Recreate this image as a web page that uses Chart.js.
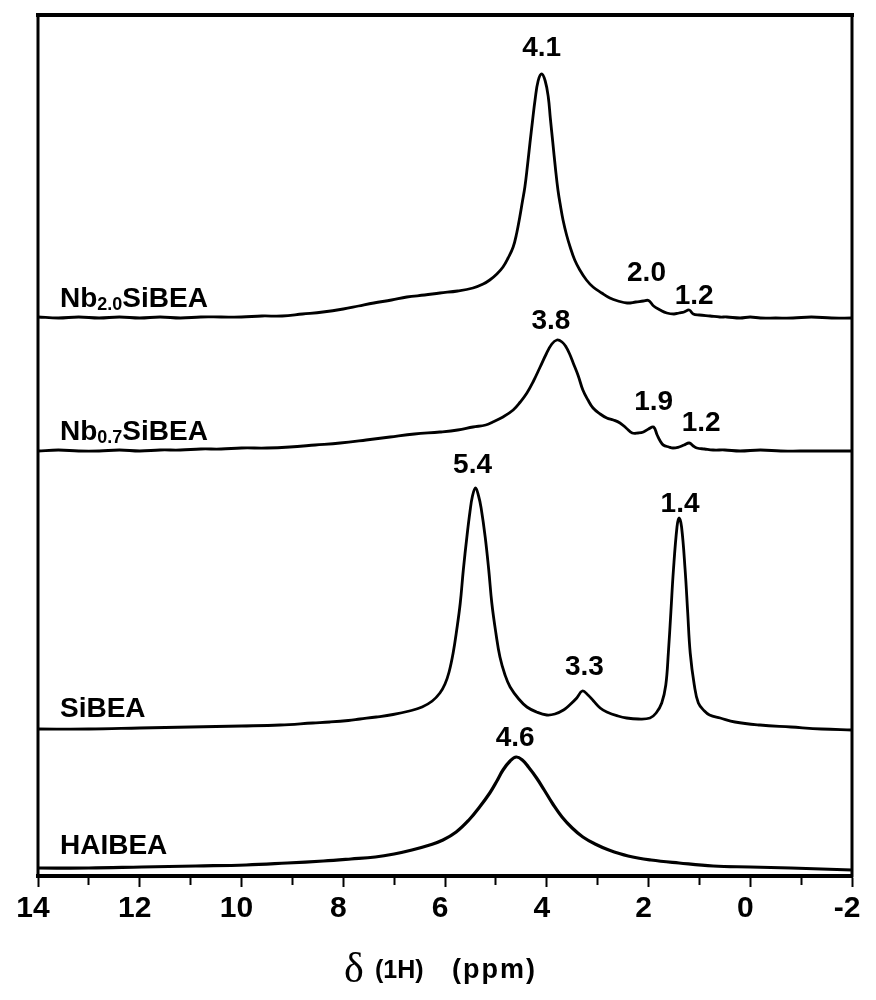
<!DOCTYPE html>
<html>
<head>
<meta charset="utf-8">
<script src="https://cdn.jsdelivr.net/npm/chart.js@4.4.0/dist/chart.umd.min.js"></script>
<style>
  html, body { margin: 0; padding: 0; background: #fff; }
  #wrap { width: 876px; height: 1000px; }
</style>
</head>
<body>
<div id="wrap"><canvas id="nmr" width="876" height="1000"></canvas></div>
<script>
// 1H MAS NMR spectra of the BEA zeolite series.
// Chemical shift in ppm, intensity in a.u. above each trace's own baseline.
const sampleNames = ['Nb2.0SiBEA', 'Nb0.7SiBEA', 'SiBEA', 'HAIBEA'];
// vertical stacking offset of each spectrum (a.u.)
const stackOffsets = [558, 425, 146, 6];

const nb20Ppm = [14.0, 13.6, 13.2, 12.8, 12.4, 12.0, 11.6, 11.2, 10.8, 10.4, 10.0, 9.6, 9.2, 8.8, 8.4, 8.0, 7.7, 7.4, 7.05, 6.75, 6.4, 6.1, 5.75, 5.45, 5.25, 5.12, 4.98, 4.86, 4.76, 4.66, 4.59, 4.53, 4.48, 4.43, 4.38, 4.33, 4.28, 4.23, 4.17, 4.1, 4.03, 3.97, 3.93, 3.88, 3.83, 3.78, 3.73, 3.68, 3.61, 3.54, 3.45, 3.35, 3.22, 3.09, 2.92, 2.76, 2.6, 2.42, 2.25, 2.1, 2.0, 1.9, 1.77, 1.64, 1.5, 1.4, 1.3, 1.2, 1.12, 1.0, 0.79, 0.6, 0.46, 0.2, 0.0, -0.2, -0.5, -0.84, -1.2, -1.6, -2.0];
const nb20Int = [1, 0, 1, 0, 1, 0, 1, 0, 1, 1, 1, 2, 2, 4, 6, 9, 12, 15, 18, 21, 23, 25, 27, 30, 34, 38, 44, 51, 60, 71, 85, 101, 116, 131, 152, 175, 197, 218, 237, 244, 237, 221, 200, 175, 150, 128, 112, 98, 83, 71, 58, 48, 38, 31, 25, 20, 17, 15, 16, 17, 17.5, 12, 8, 5, 4, 5, 6, 8, 4, 3, 2, 1, 1, 0, 1, 0, 0, 0, 1, 0, 0];

const nb07Ppm = [14.0, 13.6, 13.2, 12.8, 12.4, 12.0, 11.6, 11.2, 10.8, 10.4, 10.0, 9.5, 9.05, 8.55, 8.06, 7.55, 7.08, 6.6, 6.1, 5.75, 5.45, 5.2, 5.06, 4.86, 4.66, 4.52, 4.39, 4.26, 4.13, 4.01, 3.9, 3.8, 3.7, 3.62, 3.55, 3.48, 3.38, 3.29, 3.19, 3.09, 2.95, 2.82, 2.69, 2.56, 2.44, 2.32, 2.2, 2.1, 2.0, 1.9, 1.83, 1.77, 1.71, 1.6, 1.52, 1.4, 1.3, 1.2, 1.12, 1.05, 0.9, 0.73, 0.5, 0.2, -0.2, -0.6, -0.98, -1.4, -2.0];
const nb07Int = [0, 1, 0, 0, 1, 0, 1, 1, 2, 2, 3, 3, 4, 6, 8, 11, 14, 17, 19, 21, 24, 26, 29, 34, 41, 49, 58, 70, 84, 97, 107, 111, 109, 104, 97, 88, 75, 61, 51, 43, 37, 33, 31, 28, 23, 18, 18, 19, 22, 24, 16, 10, 6, 4, 3, 4, 6, 8, 5, 3, 2, 1, 1, 0, 1, 0, 0, 0, 0];

const siPpm = [14.0, 13.0, 12.0, 11.0, 10.0, 9.24, 8.6, 8.26, 7.9, 7.67, 7.35, 7.02, 6.7, 6.45, 6.25, 6.1, 6.0, 5.92, 5.84, 5.77, 5.7, 5.64, 5.57, 5.51, 5.46, 5.4, 5.34, 5.29, 5.21, 5.14, 5.08, 5.0, 4.92, 4.82, 4.72, 4.55, 4.39, 4.2, 4.0, 3.84, 3.67, 3.55, 3.41, 3.3, 3.19, 3.08, 2.95, 2.82, 2.6, 2.43, 2.2, 1.97, 1.85, 1.74, 1.66, 1.61, 1.56, 1.51, 1.44, 1.4, 1.35, 1.28, 1.23, 1.18, 1.1, 1.02, 0.9, 0.8, 0.59, 0.3, -0.19, -0.8, -1.4, -2.0];
const siInt = [1, 1, 2, 3, 4, 5, 7, 8, 9.5, 11, 13, 15.5, 19, 23, 29, 37, 46, 58, 77, 100, 127, 160, 193, 218, 234, 242, 234, 222, 193, 160, 127, 97, 73, 55, 43, 31, 23, 18, 15, 16, 20, 25, 32, 39, 35, 29, 22, 18, 14, 12, 11, 12, 17, 27, 45, 77, 118, 160, 203, 212, 203, 160, 118, 77, 45, 27, 19, 15, 12, 8, 5, 3, 1, 0];

const haPpm = [14.0, 13.0, 11.96, 10.9, 9.91, 9.1, 8.39, 7.85, 7.37, 7.0, 6.65, 6.3, 6.04, 5.78, 5.53, 5.32, 5.12, 4.98, 4.86, 4.72, 4.6, 4.48, 4.36, 4.2, 4.05, 3.88, 3.7, 3.5, 3.29, 3.05, 2.78, 2.4, 1.95, 1.4, 0.73, 0.0, -0.8, -1.4, -2.0];
const haInt = [2, 2, 3, 4, 5, 7, 9, 11, 13, 16, 20, 25, 30, 38, 50, 63, 77, 89, 100, 109, 113, 110, 103, 92, 80, 66, 53, 42, 33, 26, 20, 14, 10, 7, 4, 3, 2, 1, 0];

// labelled x-axis values
const xTickLabels = [14, 12, 10, 8, 6, 4, 2, 0, -2];

const ppmSeries = [nb20Ppm, nb07Ppm, siPpm, haPpm];
const intSeries = [nb20Int, nb07Int, siInt, haInt];

// peak assignments: text, spectrum index, shift; dx/dy place the text relative to the peak (px)
const peakLabels = [
  { text: '4.1', series: 0, ppm: 4.1, dx: 0, dy: -26 },
  { text: '2.0', series: 0, ppm: 2.0, dx: -2, dy: -27 },
  { text: '1.2', series: 0, ppm: 1.2, dx: 5, dy: -14 },
  { text: '3.8', series: 1, ppm: 3.8, dx: -6, dy: -19 },
  { text: '1.9', series: 1, ppm: 1.9, dx: 0, dy: -25 },
  { text: '1.2', series: 1, ppm: 1.2, dx: 12, dy: -20 },
  { text: '5.4', series: 2, ppm: 5.4, dx: -3, dy: -23 },
  { text: '3.3', series: 2, ppm: 3.3, dx: 2, dy: -24 },
  { text: '1.4', series: 2, ppm: 1.4, dx: 1, dy: -14 },
  { text: '4.6', series: 3, ppm: 4.6, dx: -1, dy: -19 }
];

// sample names: main part, subscript, rest; drawn just above each baseline
const sampleLabels = [
  { main: 'Nb', sub: '2.0', rest: 'SiBEA', dy: -11 },
  { main: 'Nb', sub: '0.7', rest: 'SiBEA', dy: -11 },
  { main: 'SiBEA', sub: '', rest: '', dy: -13 },
  { main: 'HAIBEA', sub: '', rest: '', dy: -16 }
];

const SANS = '"Liberation Sans", Arial, sans-serif';

const datasets = sampleNames.map((name, i) => ({
  label: name,
  data: ppmSeries[i].map((p, k) => ({ x: p, y: stackOffsets[i] + intSeries[i][k] })),
  borderColor: '#000',
  borderWidth: i === 3 ? 3.2 : 2.8,
  borderJoinStyle: 'round',
  borderCapStyle: 'round',
  pointRadius: 0,
  fill: false,
  tension: 0.4
}));

const framePlugin = {
  id: 'frame',
  afterDatasetsDraw(chart) {
    const { ctx, chartArea: a } = chart;
    ctx.save();
    ctx.strokeStyle = '#000';
    ctx.lineCap = 'square';
    ctx.lineWidth = 4;
    ctx.beginPath(); ctx.moveTo(a.left, a.top); ctx.lineTo(a.right, a.top); ctx.stroke();
    ctx.lineWidth = 3;
    ctx.beginPath(); ctx.moveTo(a.left, a.top); ctx.lineTo(a.left, a.bottom); ctx.stroke();
    ctx.beginPath(); ctx.moveTo(a.right, a.top); ctx.lineTo(a.right, a.bottom); ctx.stroke();
    ctx.restore();
  }
};

const textPlugin = {
  id: 'spectrumText',
  afterDraw(chart) {
    const { ctx } = chart;
    const xs = chart.scales.x, ys = chart.scales.y;
    ctx.save();
    ctx.fillStyle = '#000';

    // peak positions
    ctx.font = 'bold 28px ' + SANS;
    ctx.textAlign = 'center';
    ctx.textBaseline = 'middle';
    peakLabels.forEach(l => {
      const idx = ppmSeries[l.series].indexOf(l.ppm);
      const v = stackOffsets[l.series] + intSeries[l.series][idx];
      ctx.fillText(l.text, xs.getPixelForValue(l.ppm) + l.dx, ys.getPixelForValue(v) + l.dy);
    });

    // sample names with subscripts
    ctx.textAlign = 'left';
    ctx.textBaseline = 'alphabetic';
    sampleLabels.forEach((s, i) => {
      let x = chart.chartArea.left + 22;
      const y = ys.getPixelForValue(stackOffsets[i]) + s.dy;
      ctx.font = 'bold 28px ' + SANS;
      ctx.fillText(s.main, x, y);
      x += ctx.measureText(s.main).width;
      if (s.sub) {
        ctx.font = 'bold 18px ' + SANS;
        ctx.fillText(s.sub, x, y + 3);
        x += ctx.measureText(s.sub).width;
        ctx.font = 'bold 28px ' + SANS;
        ctx.fillText(s.rest, x, y);
      }
    });

    // axis title
    const base = 978;
    ctx.font = '42px "Liberation Serif", "Times New Roman", serif';
    ctx.fillText('\u03B4', 344, base + 4);
    ctx.font = 'bold 25px ' + SANS;
    ctx.fillText('(1H)', 375, base);
    ctx.font = 'bold 27px ' + SANS;
    ctx.letterSpacing = '2px';
    ctx.fillText('(ppm)', 452, base);
    ctx.restore();
  }
};

new Chart(document.getElementById('nmr'), {
  type: 'line',
  data: { datasets },
  options: {
    responsive: false,
    animation: false,
    devicePixelRatio: 1,
    layout: { padding: { left: 38, right: 24, top: 15, bottom: 0 } },
    plugins: { legend: { display: false }, tooltip: { enabled: false } },
    scales: {
      x: {
        type: 'linear',
        min: -2,
        max: 14,
        reverse: true,
        afterFit(scale) { scale.height = 124; },
        ticks: {
          stepSize: 1,
          autoSkip: false,
          maxRotation: 0,
          padding: 4,
          labelOffset: -5,
          color: '#000',
          font: { family: SANS, size: 30, weight: 'bold' },
          callback: v => (xTickLabels.includes(v) ? String(v) : '')
        },
        grid: {
          drawOnChartArea: false,
          drawTicks: true,
          tickLength: 11,
          tickColor: '#000',
          tickWidth: 2,
          tickBorderDash: c => (c.tick && Math.abs(c.tick.value) % 2 === 1 ? [7, 40] : [])
        },
        border: { display: true, color: '#000', width: 4 }
      },
      y: { display: false, min: 0, max: 861 }
    }
  },
  plugins: [framePlugin, textPlugin]
});
</script>
</body>
</html>
